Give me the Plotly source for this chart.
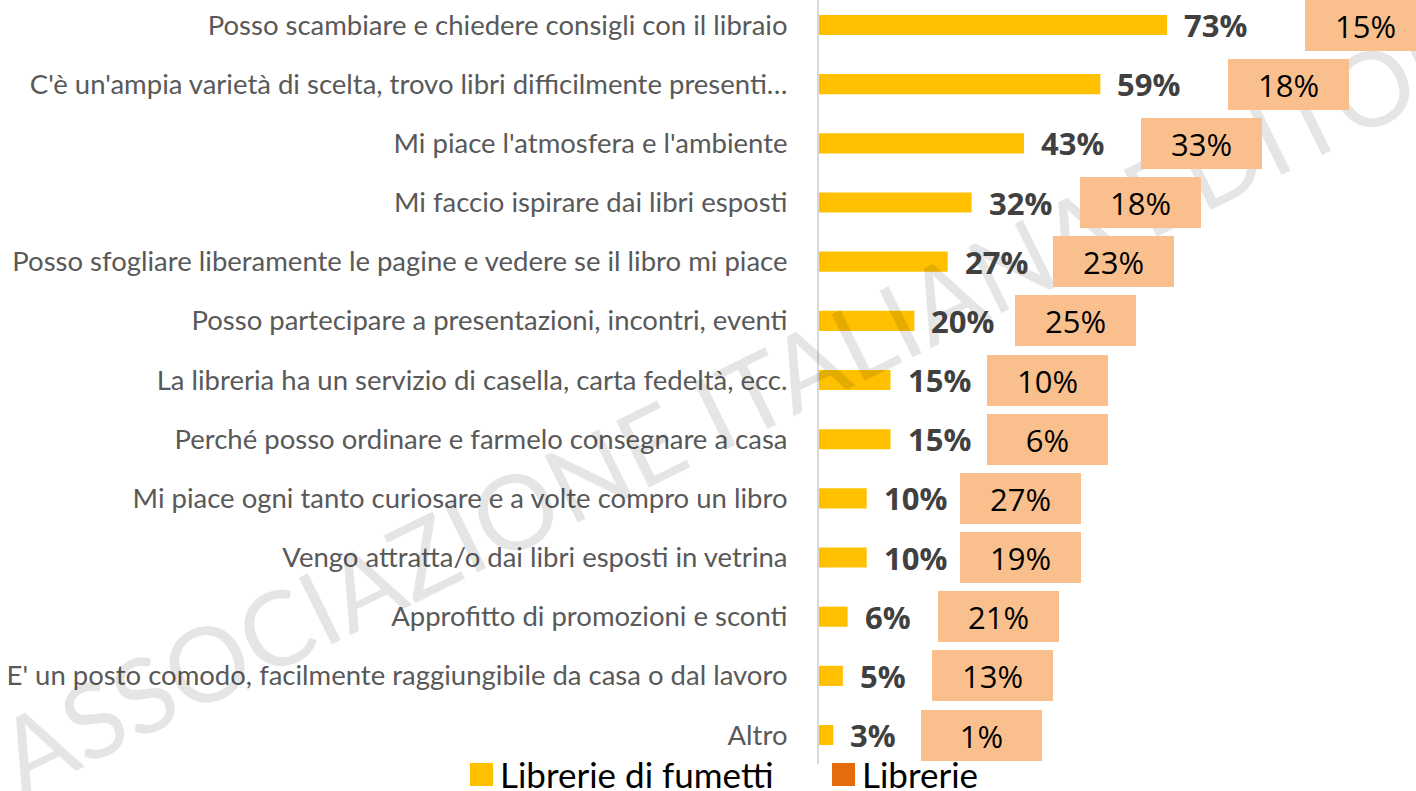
import plotly.graph_objects as go

categories = [
    "Posso scambiare e chiedere consigli con il libraio",
    "C'è un'ampia varietà di scelta, trovo libri difficilmente presenti…",
    "Mi piace l'atmosfera e l'ambiente",
    "Mi faccio ispirare dai libri esposti",
    "Posso sfogliare liberamente le pagine e vedere se il libro mi piace",
    "Posso partecipare a presentazioni, incontri, eventi",
    "La libreria ha un servizio di casella, carta fedeltà, ecc.",
    "Perché posso ordinare e farmelo consegnare a casa",
    "Mi piace ogni tanto curiosare e a volte compro un libro",
    "Vengo attratta/o dai libri esposti in vetrina",
    "Approfitto di promozioni e sconti",
    "E' un posto comodo, facilmente raggiungibile da casa o dal lavoro",
    "Altro",
]
fumetti = [73, 59, 43, 32, 27, 20, 15, 15, 10, 10, 6, 5, 3]
librerie = [15, 18, 33, 18, 23, 25, 10, 6, 27, 19, 21, 13, 1]
series_names = ["Librerie di fumetti", "Librerie"]
watermark = "ASSOCIAZIONE ITALIANA EDITORI"

W, H = 1416, 791
L, R, T, B = 819, 0, 0, 27
PW, PH = W - L - R, H - T - B
XMAX = 125.2
ROW0, ROWSTEP = 25, 59.17

YELLOW = "#FFC000"
ORANGE = "#E46C0A"
PEACH = "#F9C08E"
FONT = "Open Sans"
LFONT = "Lato"

def px_to_paper(px, py):
    return (px - L) / PW, (H - B - py) / PH

fig = go.Figure()
fig.add_trace(go.Bar(
    y=categories, x=fumetti, orientation="h", name=series_names[0],
    marker=dict(color=YELLOW, line=dict(width=0)), width=0.34,
    showlegend=False, hoverinfo="x+y",
))

annotations = []
# watermark (semi-transparent)
wx, wy = px_to_paper(748, 393)
annotations.append(dict(
    x=wx, y=wy, xref="paper", yref="paper", xanchor="center", yanchor="middle",
    text=watermark, showarrow=False, textangle=-26.3,
    font=dict(family=LFONT, size=104, weight=400, color="rgba(0,0,0,0.10)"),
))

for cat, f, lv in zip(categories, fumetti, librerie):
    annotations.append(dict(
        x=f, y=cat, xref="x", yref="y", xanchor="left", yanchor="middle",
        xshift=15, text=f"<b>{f}%</b>", showarrow=False,
        font=dict(family=FONT, size=31, color="#404040"),
    ))
    annotations.append(dict(
        x=1.15 * f + 18, y=cat, xref="x", yref="y", xanchor="left", yanchor="middle",
        text=f"{lv}%", showarrow=False, width=121, height=51, borderpad=0,
        borderwidth=0, bgcolor=PEACH, align="center", valign="middle",
        font=dict(family=FONT, size=31, color="#000000"),
    ))

# legend (manual)
shapes = []
leg = [(470, YELLOW, series_names[0]), (832, ORANGE, series_names[1])]
for x0, col, name in leg:
    ax0, ay0 = px_to_paper(x0, 763)
    ax1, ay1 = px_to_paper(x0 + 23, 786)
    shapes.append(dict(type="rect", xref="paper", yref="paper", x0=ax0, x1=ax1,
                       y0=ay1, y1=ay0, fillcolor=col, line=dict(width=0)))
    tx, ty = px_to_paper(x0 + 28, 774)
    annotations.append(dict(x=tx, y=ty, xref="paper", yref="paper", xanchor="left",
                            yanchor="middle", text=name, showarrow=False,
                            font=dict(family=LFONT, size=35, color="#000000")))

y_top = -ROW0 / ROWSTEP
y_bot = (PH - ROW0) / ROWSTEP
fig.update_layout(
    width=W, height=H,
    margin=dict(l=L, r=R, t=T, b=B, pad=0),
    paper_bgcolor="white", plot_bgcolor="white",
    showlegend=False,
    annotations=annotations, shapes=shapes,
    xaxis=dict(range=[0, XMAX], visible=False, fixedrange=True),
    yaxis=dict(
        type="category", categoryorder="array", categoryarray=categories,
        range=[y_bot, y_top], autorange=False,
        showline=True, linecolor="#D9D9D9", linewidth=2,
        ticks="", ticklabelstandoff=24, showgrid=False, zeroline=False,
        tickfont=dict(family=LFONT, size=27.5, color="#595959"),
        automargin=False, fixedrange=True,
    ),
    font=dict(family=FONT),
)

fig.write_html(
    "out.html",
    config={"displayModeBar": False},
    post_script="document.body.style.margin='0px';document.body.style.overflow='hidden';",
)
